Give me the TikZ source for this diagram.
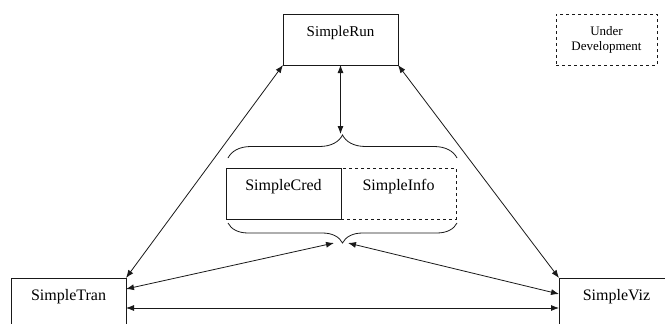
\documentclass[tikz,border=0pt]{standalone}
\usepackage{fontspec}
\setmainfont{Liberation Serif}
\usetikzlibrary{arrows.meta,positioning,decorations.pathreplacing}

\begin{document}
\begin{tikzpicture}[x=1pt,y=-1pt,>={Latex[length=8pt,width=6pt]},font=\fontsize{16}{19}\selectfont]
\tikzset{box/.style={draw=black!90,line width=0.8pt,outer sep=0pt,inner sep=0pt}, unit/.style={box,anchor=north west,minimum width=115pt,text height=22pt,text depth=29pt}, note/.style={box,dashed,anchor=north west,minimum width=101pt,minimum height=51pt,align=center,font=\fontsize{13}{15}\selectfont}, link/.style={<->,draw=black!90,line width=0.8pt}, curly/.style={draw=black!90,line width=0.8pt,decorate,decoration={brace,amplitude=#1}}}
\useasboundingbox (0,0) rectangle (665,324);
\clip (0,0) rectangle (665,324);
% modules
\node[unit,font=\fontsize{15}{18}\selectfont] (run) at (283,14) {SimpleRun};
\node[note] (dev) at (556,14) {Under\\Development};
\node[unit] (cred) at (226,168) {SimpleCred};
\node[unit,dashed,right=0pt of cred] (info) {SimpleInfo};
\node[unit] (tran) at (11,278) {SimpleTran};
\node[unit] (viz) at (559,278) {SimpleViz};
% braces round the shared pair
\draw[curly=23pt] (228,158) -- (457,158);
\draw[curly=20pt] (457,223) -- (228,223);
\coordinate (upTip) at (340,134);
\coordinate (hubL) at (334,243);
\coordinate (hubR) at (348,243);
% links
\draw[link] (run.south west) -- (tran.north east);
\draw[link] (run.south east) -- (viz.north west);
\draw[link] (run.south) -- (run.south |- upTip);
\draw[link] (hubL) -- ([yshift=-11pt]tran.north east);
\draw[link] (hubR) -- ([yshift=-16pt]viz.north west);
\draw[link] ([yshift=-30pt]tran.north east) -- ([yshift=-30pt]viz.north west);
\end{tikzpicture}
\end{document}
